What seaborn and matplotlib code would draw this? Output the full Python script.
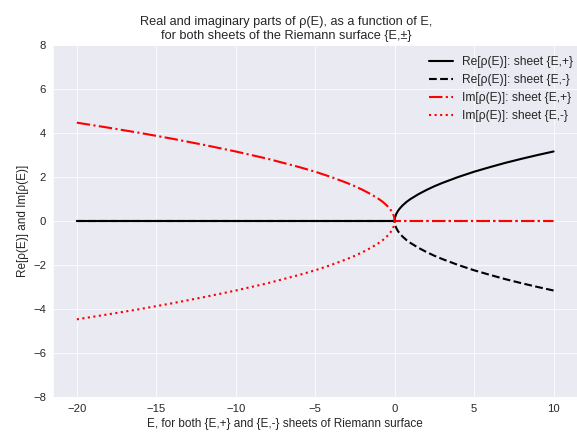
import numpy as np
import pandas as pd
import matplotlib
matplotlib.use("Agg")
import matplotlib.pyplot as plt
import seaborn as sns

E_neg = [-20, -18, -16, -14, -12, -10, -8, -6, -5, -4, -3, -2.5, -2, -1.5, -1, -0.75, -0.5,
         -0.3, -0.2, -0.1, -0.05, -0.02, -0.005, 0]
im_neg = [4.47, 4.24, 4.0, 3.74, 3.46, 3.16, 2.83, 2.45, 2.24, 2.0, 1.73, 1.58, 1.41, 1.22,
          1.0, 0.87, 0.71, 0.55, 0.45, 0.32, 0.22, 0.14, 0.07, 0.0]
E_pos = [0, 0.005, 0.02, 0.05, 0.1, 0.2, 0.3, 0.5, 0.75, 1, 1.5, 2, 2.5, 3, 4, 5, 6, 7, 8, 9, 10]
re_pos = [0.0, 0.07, 0.14, 0.22, 0.32, 0.45, 0.55, 0.71, 0.87, 1.0, 1.22, 1.41, 1.58, 1.73,
          2.0, 2.24, 2.45, 2.65, 2.83, 3.0, 3.16]

E = E_neg + E_pos[1:]
re_plus = [0.0] * len(E_neg) + re_pos[1:]
re_minus = [-v for v in re_plus]
im_plus = im_neg + [0.0] * (len(E_pos) - 1)
im_minus = [-v for v in im_plus]

df = pd.DataFrame({"E": E, "re_plus": re_plus, "re_minus": re_minus,
                   "im_plus": im_plus, "im_minus": im_minus})

sns.set_style("darkgrid")
plt.rcParams['font.family'] = ['Liberation Sans', 'DejaVu Sans']

fig = plt.figure(figsize=(577/72, 432/72), dpi=72)
ax = fig.add_axes([53/577, 35/432, 526/577, 352/432])
lw = 2.1
sns.lineplot(data=df, x="E", y="re_plus", ax=ax, color="black", lw=lw, label="Re[ρ(E)]: sheet {E,+}")
sns.lineplot(data=df, x="E", y="re_minus", ax=ax, color="black", lw=lw, linestyle="--", label="Re[ρ(E)]: sheet {E,-}")
sns.lineplot(data=df, x="E", y="im_plus", ax=ax, color="red", lw=lw, linestyle="-.", label="Im[ρ(E)]: sheet {E,+}")
sns.lineplot(data=df, x="E", y="im_minus", ax=ax, color="red", lw=lw, linestyle=":", label="Im[ρ(E)]: sheet {E,-}")

ax.set_xlim(-21.5, 11.6)
ax.set_ylim(-8, 8)
ax.set_yticks(range(-8, 9, 2))
ax.set_xticks([-20, -15, -10, -5, 0, 5, 10])
ax.tick_params(labelsize=11.3)
ax.set_title("Real and imaginary parts of ρ(E), as a function of E,\nfor both sheets of the Riemann surface {E,±}", fontsize=12.7)
ax.title.set_x((286 - 53) / 526)
ax.set_xlabel("E, for both {E,+} and {E,-} sheets of Riemann surface", fontsize=11.8)
ax.xaxis.label.set_x((285 - 53) / 526)
ax.set_ylabel("Re[ρ(E)] and Im[ρ(E)]", fontsize=11.8)
ax.legend(loc="upper right", frameon=False, fontsize=12, bbox_to_anchor=(1.0095, 1.0))
fig.savefig("out.png", dpi=72)
